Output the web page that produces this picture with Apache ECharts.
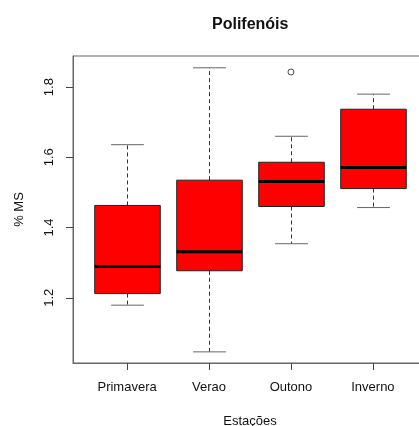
<!DOCTYPE html>
<html>
<head>
<meta charset="utf-8">
<script src="https://cdn.jsdelivr.net/npm/echarts@6/dist/echarts.min.js"></script>
<style>
  html, body { margin: 0; padding: 0; background: #fff; }
  #chart { width: 419px; height: 426px; }
</style>
</head>
<body>
<div id="chart"></div>
<script>
// seasons and their box statistics
const seasons = ["Primavera", "Verao", "Outono", "Inverno"];
const lowWhisker = [1.179, 1.046, 1.354, 1.457];
const q1 = [1.212, 1.277, 1.460, 1.511];
const median = [1.289, 1.331, 1.531, 1.571];
const q3 = [1.463, 1.535, 1.586, 1.737];
const highWhisker = [1.636, 1.855, 1.660, 1.780];
const outliers = [[3, 1.843]];
const yTicks = [1.2, 1.4, 1.6, 1.8];

const boxData = [];
for (let i = 0; i < seasons.length; i++) {
  boxData.push([i + 1, lowWhisker[i], q1[i], median[i], q3[i], highWhisker[i]]);
}

function renderBox(params, api) {
  let x = api.value(0);
  let pLo = api.coord([x, api.value(1)]);
  let pQ1 = api.coord([x, api.value(2)]);
  let pMed = api.coord([x, api.value(3)]);
  let pQ3 = api.coord([x, api.value(4)]);
  let pHi = api.coord([x, api.value(5)]);
  let half = api.size([0.8, 0])[0] / 2;
  let cx = Math.round(pMed[0]) + 0.5;
  let dash = { stroke: "#333", lineWidth: 1, lineDash: [4, 3] };
  let cap = { stroke: "#666", lineWidth: 1 };
  return {
    type: "group",
    children: [
      { type: "line", shape: { x1: cx, y1: pQ3[1], x2: cx, y2: pHi[1] }, style: dash },
      { type: "line", shape: { x1: cx, y1: pQ1[1], x2: cx, y2: pLo[1] }, style: dash },
      { type: "line", shape: { x1: cx - half / 2, y1: pHi[1], x2: cx + half / 2, y2: pHi[1] }, style: cap },
      { type: "line", shape: { x1: cx - half / 2, y1: pLo[1], x2: cx + half / 2, y2: pLo[1] }, style: cap },
      {
        type: "rect",
        shape: { x: cx - half, y: pQ3[1], width: half * 2, height: pQ1[1] - pQ3[1] },
        style: { fill: "#ff0000", stroke: "#222", lineWidth: 1 }
      },
      { type: "line", shape: { x1: cx - half, y1: pMed[1], x2: cx + half, y2: pMed[1] }, style: { stroke: "#000", lineWidth: 3 } }
    ]
  };
}

var dom = document.getElementById("chart");
var myChart = echarts.init(dom, null, { renderer: "canvas" });

var txt = { fontFamily: "Liberation Sans, Arial, sans-serif", color: "#111", fontSize: 13 };

var option = {
  animation: false,
  backgroundColor: "#fff",
  title: {
    text: "Polifenóis",
    left: 207,
    top: 12,
    textStyle: { fontFamily: txt.fontFamily, fontSize: 16, fontWeight: "bold", color: "#111" }
  },
  grid: {
    left: 73,
    top: 56,
    width: 354,
    height: 307,
    outerBoundsMode: "none",
    containLabel: false,
    show: true,
    borderColor: "#666",
    borderWidth: 1,
    backgroundColor: "transparent"
  },
  xAxis: {
    type: "value",
    min: 0.34,
    max: 4.66,
    name: "Estações",
    nameLocation: "middle",
    nameGap: 52,
    nameTextStyle: txt,
    splitLine: { show: false },
    axisLine: { show: true, onZero: false, lineStyle: { color: "#666" } },
    axisTick: { show: true, length: 7, lineStyle: { color: "#444" }, customValues: [1, 2, 3, 4] },
    axisLabel: {
      margin: 18,
      fontFamily: txt.fontFamily,
      fontSize: 13,
      color: "#111",
      customValues: [1, 2, 3, 4],
      formatter: function (v) { return seasons[Math.round(v) - 1]; }
    }
  },
  yAxis: {
    type: "value",
    min: 1.0143,
    max: 1.8886,
    name: "% MS",
    nameLocation: "middle",
    nameGap: 47,
    nameRotate: 90,
    nameTextStyle: txt,
    splitLine: { show: false },
    axisLine: { show: true, onZero: false, lineStyle: { color: "#666" } },
    axisTick: { show: true, length: 7, lineStyle: { color: "#444" }, customValues: yTicks },
    axisLabel: {
      margin: 17,
      rotate: 90,
      fontFamily: txt.fontFamily,
      fontSize: 13,
      color: "#111",
      customValues: yTicks,
      formatter: function (v) { return v.toFixed(1); }
    }
  },
  series: [
    {
      type: "custom",
      renderItem: renderBox,
      data: boxData,
      encode: { x: 0, y: [1, 2, 3, 4, 5] },
      clip: false
    },
    {
      type: "scatter",
      data: outliers,
      symbol: "circle",
      symbolSize: 6,
      itemStyle: { color: "#fff", borderColor: "#222", borderWidth: 1 }
    }
  ]
};

myChart.setOption(option);
window.addEventListener("resize", myChart.resize);
</script>
</body>
</html>
